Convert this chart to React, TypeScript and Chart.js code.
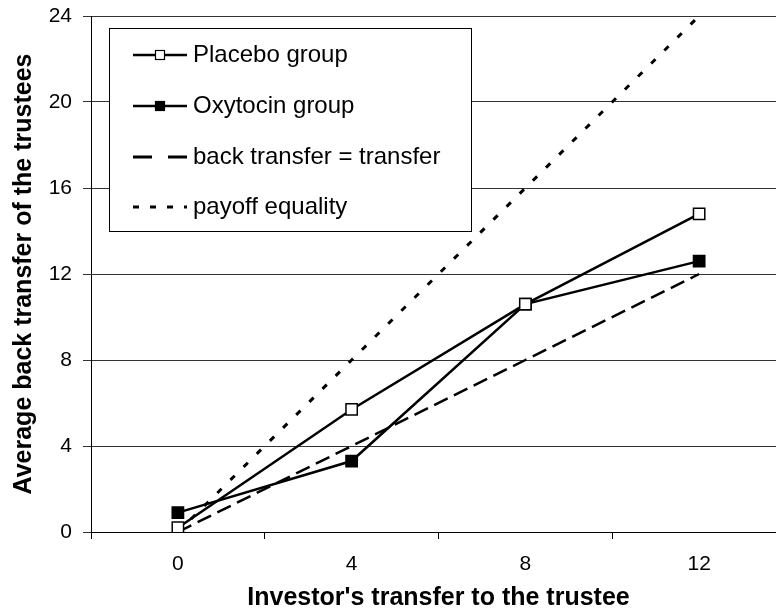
import React, { useEffect, useRef } from "react";
import { Chart, registerables } from "chart.js";

Chart.register(...registerables);

const categories = ["0", "4", "8", "12"];
const placebo = [0.2, 5.7, 10.6, 14.8];
const oxytocin = [0.9, 3.3, 10.6, 12.6];
const backEqual = [0, 4, 8, 12];
const payoffEquality = [0, 8, 16, 24];
const seriesLabels = ["Placebo group", "Oxytocin group", "back transfer = transfer", "payoff equality"];
const xTitle = "Investor's transfer to the trustee";
const yTitle = "Average back transfer of the trustees";

const FONT = "'Liberation Sans', Arial, sans-serif";

const legendPlugin = {
  id: "boxLegend",
  afterDatasetsDraw(chart: any) {
    const ctx = chart.ctx;
    const x0 = 109.5, y0 = 28.5, w = 362, h = 203;
    ctx.save();
    ctx.fillStyle = "#fff";
    ctx.strokeStyle = "#000";
    ctx.lineWidth = 1;
    ctx.fillRect(x0, y0, w, h);
    ctx.strokeRect(x0, y0, w, h);
    const rows = [55, 106, 157, 207];
    const lx1 = 133, lx2 = 187, tx = 193;
    chart.data.datasets.forEach((ds: any, i: number) => {
      const y = rows[i];
      ctx.beginPath();
      ctx.strokeStyle = "#000";
      if (i === 2) {
        ctx.lineWidth = 3;
        ctx.setLineDash([19, 16]);
      } else if (i === 3) {
        ctx.lineWidth = 3;
        ctx.setLineDash([6, 11]);
      } else {
        ctx.lineWidth = 2.5;
        ctx.setLineDash([]);
      }
      ctx.moveTo(lx1, y);
      ctx.lineTo(lx2, y);
      ctx.stroke();
      ctx.setLineDash([]);
      if (i < 2) {
        const s = 9;
        const cx = 160;
        ctx.fillStyle = i === 0 ? "#fff" : "#000";
        ctx.fillRect(cx - s / 2, y - s / 2, s, s);
        ctx.lineWidth = 1.2;
        ctx.strokeRect(cx - s / 2, y - s / 2, s, s);
      }
      ctx.fillStyle = "#000";
      ctx.font = `24px ${FONT}`;
      ctx.textBaseline = "middle";
      ctx.textAlign = "left";
      ctx.fillText(ds.label, tx, y);
    });
    ctx.restore();
  },
};

export default function App() {
  const ref = useRef<HTMLCanvasElement | null>(null);
  useEffect(() => {
    if (!ref.current) return;
    const chart = new Chart(ref.current, {
      type: "line",
      data: {
        labels: categories,
        datasets: [
          {
            label: seriesLabels[0],
            data: placebo,
            borderColor: "#000",
            borderWidth: 2.5,
            pointStyle: "rect",
            pointRadius: 8,
            pointBackgroundColor: "#fff",
            pointBorderColor: "#000",
            pointBorderWidth: 1.5,
            tension: 0,
          },
          {
            label: seriesLabels[1],
            data: oxytocin,
            borderColor: "#000",
            borderWidth: 2.5,
            pointStyle: "rect",
            pointRadius: 8,
            pointBackgroundColor: "#000",
            pointBorderColor: "#000",
            pointBorderWidth: 1.5,
            tension: 0,
          },
          {
            label: seriesLabels[2],
            data: backEqual,
            borderColor: "#000",
            borderWidth: 2.5,
            borderDash: [15, 7],
            pointRadius: 0,
            tension: 0,
          },
          {
            label: seriesLabels[3],
            data: payoffEquality,
            borderColor: "#000",
            borderWidth: 3,
            borderDash: [6, 12.5],
            pointRadius: 0,
            tension: 0,
          },
        ],
      },
      options: {
        animation: false,
        responsive: false,
        devicePixelRatio: 1,
        layout: { padding: { left: 0, right: 14, top: 16, bottom: 0 } },
        plugins: { legend: { display: false }, tooltip: { enabled: false } },
        scales: {
          x: {
            type: "category",
            offset: true,
            grid: {
              offset: true,
              drawOnChartArea: false,
              drawTicks: true,
              tickLength: 7,
              color: "#000",
              lineWidth: 1,
            },
            border: { display: true, color: "#000", width: 1 },
            ticks: { color: "#000", font: { family: FONT, size: 21 }, padding: 13, maxRotation: 0 },
            title: {
              display: true,
              text: xTitle,
              color: "#000",
              font: { family: FONT, size: 25, weight: "bold" },
              padding: { top: 0, bottom: 2 },
            },
            afterFit: (s: any) => {
              s.height = 83;
              s.paddingLeft = 0;
              s.paddingRight = 0;
            },
          },
          y: {
            min: 0,
            max: 24,
            ticks: { stepSize: 4, color: "#000", font: { family: FONT, size: 21 }, padding: 11 },
            grid: { color: "#333", lineWidth: 1, drawTicks: true, tickLength: 8 },
            border: { display: true, color: "#000", width: 1 },
            title: {
              display: true,
              text: yTitle,
              color: "#000",
              font: { family: FONT, size: 25, weight: "bold" },
              padding: { top: 9, bottom: 0 },
            },
            afterFit: (s: any) => {
              s.width = 91;
              s.paddingTop = 0;
              s.paddingBottom = 0;
            },
          },
        },
      },
      plugins: [legendPlugin],
    });
    return () => chart.destroy();
  }, []);
  return (
    <div style={{ position: "absolute", left: 0, top: 0, width: 776, height: 615, overflow: "hidden", background: "#fff" }}>
      <canvas ref={ref} width={800} height={615} style={{ width: 800, height: 615, display: "block" }} />
    </div>
  );
}
